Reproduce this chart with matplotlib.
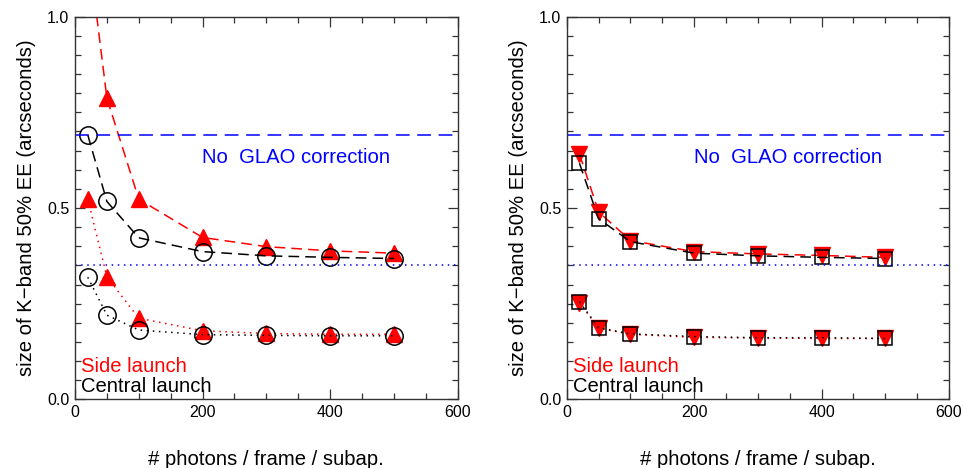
import matplotlib
matplotlib.use("Agg")
import matplotlib.pyplot as plt
from matplotlib.ticker import MultipleLocator

plt.rcParams['font.family'] = ['Liberation Sans', 'DejaVu Sans']

photons = [20, 50, 100, 200, 300, 400, 500]

# Left panel
left_side_upper = [1.19, 0.787, 0.523, 0.423, 0.399, 0.388, 0.382]
left_central_upper = [0.691, 0.517, 0.422, 0.386, 0.375, 0.371, 0.368]
left_side_lower = [0.523, 0.320, 0.212, 0.179, 0.172, 0.170, 0.170]
left_central_lower = [0.319, 0.220, 0.181, 0.169, 0.167, 0.166, 0.166]

# Right panel
right_side_upper = [0.641, 0.490, 0.415, 0.386, 0.380, 0.376, 0.371]
right_central_upper = [0.617, 0.472, 0.412, 0.382, 0.375, 0.371, 0.368]
right_side_lower = [0.253, 0.186, 0.170, 0.162, 0.160, 0.159, 0.159]
right_central_lower = [0.255, 0.187, 0.171, 0.164, 0.161, 0.161, 0.159]

no_glao = 0.69
ref_level = 0.35

xticks = [0, 200, 400, 600]
yticks = [0.0, 0.5, 1.0]

fig = plt.figure(figsize=(9.63, 4.68), dpi=100)
ax1 = fig.add_axes([0.0779, 0.1468, 0.3974, 0.8175])
ax2 = fig.add_axes([0.5885, 0.1468, 0.3970, 0.8175])

RED = '#ff0000'
BLUE = '#0000ff'
dash_long = (0, (7, 4))
dot = (0, (1, 3))
FS = 14.6

def style(ax):
    ax.set_xlim(0, 600)
    ax.set_ylim(0, 1.0)
    ax.set_xticks(xticks)
    ax.set_yticks(yticks)
    ax.set_xticklabels([str(v) for v in xticks])
    ax.set_yticklabels(['%.1f' % v for v in yticks])
    ax.xaxis.set_minor_locator(MultipleLocator(50))
    ax.yaxis.set_minor_locator(MultipleLocator(0.05))
    ax.tick_params(which='both', direction='in', top=True, right=True,
                   labelsize=11.5, color='#333333')
    ax.tick_params(which='major', length=7, width=0.9, pad=4)
    ax.tick_params(which='minor', length=4, width=0.9)
    for s in ax.spines.values():
        s.set_linewidth(1.0)
        s.set_color('#333333')
    ax.set_xlabel('# photons / frame / subap.', fontsize=FS, labelpad=22)
    ax.set_ylabel('size of K\u2212band 50% EE (arcseconds)', fontsize=FS, labelpad=8)
    ax.axhline(no_glao, color=BLUE, lw=1.1, linestyle=(0, (9, 5)))
    ax.axhline(ref_level, color=BLUE, lw=1.1, linestyle=dot)
    ax.text(199, 0.617, 'No  GLAO correction', color=BLUE, fontsize=FS, va='baseline')
    ax.text(10, 0.072, 'Side launch', color=RED, fontsize=FS, va='baseline')
    ax.text(10, 0.020, 'Central launch', color='black', fontsize=FS, va='baseline')

# Left
ax1.plot(photons, left_side_upper, color=RED, lw=1.1, linestyle=dash_long,
         marker='^', markersize=11.5, markerfacecolor=RED, markeredgecolor=RED)
ax1.plot(photons, left_side_lower, color=RED, lw=1.1, linestyle=dot,
         marker='^', markersize=11.5, markerfacecolor=RED, markeredgecolor=RED)
ax1.plot(photons, left_central_upper, color='black', lw=1.1, linestyle=dash_long,
         marker='o', markersize=12.5, markerfacecolor='none', markeredgecolor='black', markeredgewidth=1.1)
ax1.plot(photons, left_central_lower, color='black', lw=1.1, linestyle=dot,
         marker='o', markersize=12.5, markerfacecolor='none', markeredgecolor='black', markeredgewidth=1.1)

# Right
ax2.plot(photons, right_side_upper, color=RED, lw=1.1, linestyle=dash_long,
         marker='v', markersize=11.5, markerfacecolor=RED, markeredgecolor=RED)
ax2.plot(photons, right_side_lower, color=RED, lw=1.1, linestyle=dot,
         marker='v', markersize=11.5, markerfacecolor=RED, markeredgecolor=RED)
ax2.plot(photons, right_central_upper, color='black', lw=1.1, linestyle=dash_long,
         marker='s', markersize=10, markerfacecolor='none', markeredgecolor='black', markeredgewidth=1.1)
ax2.plot(photons, right_central_lower, color='black', lw=1.1, linestyle=dot,
         marker='s', markersize=10, markerfacecolor='none', markeredgecolor='black', markeredgewidth=1.1)

style(ax1)
style(ax2)

fig.savefig('out.png', dpi=100)
